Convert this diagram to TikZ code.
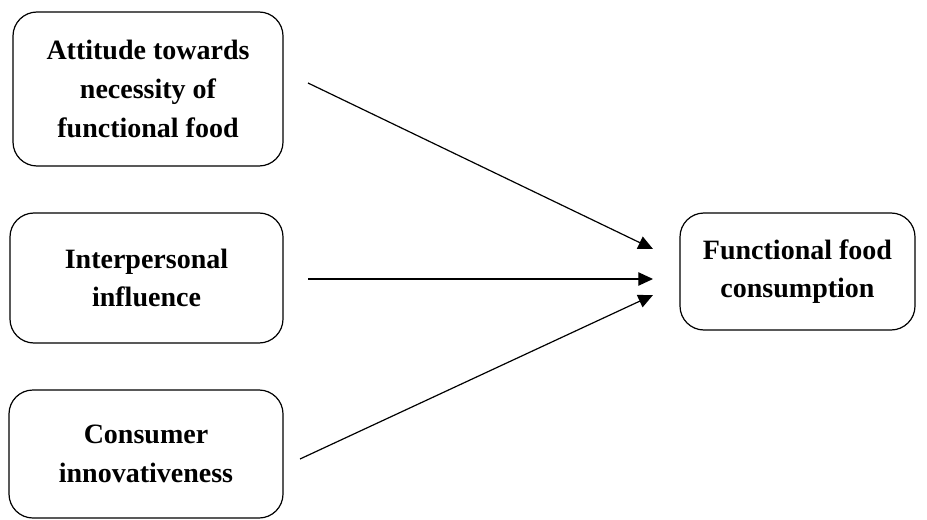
\documentclass[tikz,border=0pt]{standalone}
\usepackage{fontspec}
\setmainfont{Liberation Serif}
\usetikzlibrary{arrows.meta,positioning}
\definecolor{linecolor}{RGB}{0,0,0}
\tikzset{
factorbox/.style={
  draw=linecolor,
  rounded corners=18pt,
  line width=0.9pt,
  align=center,
  font=\fontsize{21}{29}\selectfont\bfseries
},
arrow/.style={
  -{Triangle[length=11pt,width=10pt]},
  line width=0.9pt,
  draw=linecolor
}
}
\begin{document}
\begin{tikzpicture}[x=0.75pt,y=-0.75pt]
  \useasboundingbox (0,0) rectangle (927,520);

  % Factors
  \node[factorbox, minimum width=202.5pt, minimum height=115.5pt] (attitude) at (148,89)
    {Attitude towards\\necessity of\\functional food};
  \node[factorbox, minimum width=204.75pt, minimum height=97.5pt] (influence) at (146.5,278)
    {Interpersonal\\influence};
  \node[factorbox, minimum width=205.5pt, minimum height=96pt] (innovative) at (146,454)
    {Consumer\\innovativeness};

  % Outcome
  \node[factorbox, minimum width=176.25pt, minimum height=87.75pt] (consumption) at (797.5,271.5)
    {Functional food\\consumption};

  % Arrow ends
  \coordinate (attitudeout) at (308,83);
  \coordinate (influenceout) at (308,279);
  \coordinate (innovativeout) at (300,459);
  \coordinate (tipA) at (653,249);
  \coordinate (tipB) at (653,279);
  \coordinate (tipC) at (653,295);

  \draw[arrow] (attitudeout) -- (tipA);
  \draw[arrow] (influenceout) -- (tipB);
  \draw[arrow] (innovativeout) -- (tipC);
\end{tikzpicture}
\end{document}
